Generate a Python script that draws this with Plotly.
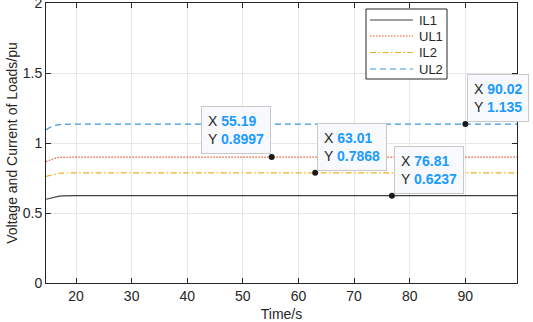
import plotly.graph_objects as go

# Time axis (s)
t = [14.6, 15, 15.3, 15.6, 16, 16.5, 17, 17.5, 18, 19, 20, 40, 60, 80, 99.3]
# Series values (pu)
IL1 = [0.598, 0.602, 0.607, 0.612, 0.616, 0.619, 0.621, 0.622, 0.623, 0.6235, 0.6237, 0.6237, 0.6237, 0.6237, 0.6237]
UL1 = [0.868, 0.873, 0.880, 0.886, 0.891, 0.895, 0.897, 0.898, 0.899, 0.8995, 0.8997, 0.8997, 0.8997, 0.8997, 0.8997]
IL2 = [0.762, 0.766, 0.771, 0.775, 0.779, 0.782, 0.784, 0.785, 0.786, 0.7865, 0.7868, 0.7868, 0.7868, 0.7868, 0.7868]
UL2 = [1.095, 1.101, 1.110, 1.117, 1.123, 1.128, 1.131, 1.133, 1.134, 1.1347, 1.135, 1.135, 1.135, 1.135, 1.135]

series_names = ["IL1", "UL1", "IL2", "UL2"]
series_values = [IL1, UL1, IL2, UL2]
series_colors = ["#404040", "#E8542A", "#EDB120", "#3A97D8"]
series_dash = ["solid", "1.5px,1.5px", "6px,2.5px,1.5px,2.5px", "6px,4px"]

# Data tips
tip_x = [55.19, 63.01, 76.81, 90.02]
tip_y = [0.8997, 0.7868, 0.6237, 1.135]
tip_xlab = ["55.19", "63.01", "76.81", "90.02"]
tip_ylab = ["0.8997", "0.7868", "0.6237", "1.135"]
tip_side = ["left", "right", "right", "right"]

x_ticks = [20, 30, 40, 50, 60, 70, 80, 90]
y_ticks = [0, 0.5, 1, 1.5, 2]
y_tick_text = ["0", "0.5", "1", "1.5", "2"]

FONT = "Liberation Sans, Arial, sans-serif"
TXT = "#262626"

# plot-area pixel geometry (for the hand-built legend box)
PL, PR, PT, PB = 46, 517, 3, 283
def px(xp):
    return (xp - PL) / (PR - PL)
def py(yp):
    return (PB - yp) / (PB - PT)

fig = go.Figure()
for name, vals, col, dash in zip(series_names, series_values, series_colors, series_dash):
    fig.add_trace(go.Scatter(x=t, y=vals, name=name, mode="lines", showlegend=False,
                             line=dict(color=col, width=1.2, dash=dash)))
fig.add_trace(go.Scatter(x=tip_x, y=tip_y, mode="markers", showlegend=False,
                         marker=dict(color="#1a1a1a", size=6)))

for xv, yv, xl, yl, side in zip(tip_x, tip_y, tip_xlab, tip_ylab, tip_side):
    txt = (f"X <b><span style='color:#1A9BFF'>{xl}</span></b><br>"
           f"Y <b><span style='color:#1A9BFF'>{yl}</span></b>")
    fig.add_annotation(
        x=xv, y=yv, xref="x", yref="y", text=txt, showarrow=False,
        xanchor="right" if side == "left" else "left", yanchor="bottom",
        xshift=-1 if side == "left" else 2, yshift=3 if side == "left" else 2,
        align="left", font=dict(family=FONT, size=14, color=TXT),
        bgcolor="#F8F9FC", bordercolor="#C8C8C8", borderwidth=1, borderpad=6,
    )

# legend (hand-built box to match the compact MATLAB legend)
fig.add_shape(type="rect", xref="paper", yref="paper",
              x0=px(366), x1=px(447), y0=py(79), y1=py(9),
              line=dict(color=TXT, width=1), fillcolor="white", layer="above")
row_y = [20, 36, 52.5, 69]
for name, col, dash, ry in zip(series_names, series_colors, series_dash, row_y):
    fig.add_shape(type="line", xref="paper", yref="paper",
                  x0=px(370), x1=px(413), y0=py(ry), y1=py(ry),
                  line=dict(color=col, width=1.2, dash=dash), layer="above")
    fig.add_annotation(x=px(417), y=py(ry), xref="paper", yref="paper",
                       text=name, showarrow=False, xanchor="left", yanchor="middle",
                       font=dict(family=FONT, size=13, color=TXT))

axis_common = dict(
    showline=True, linecolor=TXT, linewidth=1, mirror="ticks",
    ticks="inside", ticklen=5, tickcolor=TXT,
    showgrid=True, gridcolor="#E6E6E6", gridwidth=1, zeroline=False,
    tickfont=dict(family=FONT, size=14, color=TXT), automargin=False,
    ticklabeloverflow="allow",
)

fig.update_xaxes(range=[14.6, 99.3], tickvals=x_ticks,
                 title=dict(text="Time/s", font=dict(family=FONT, size=14, color=TXT), standoff=9),
                 **axis_common)
fig.update_yaxes(range=[0, 2], tickvals=y_ticks, ticktext=y_tick_text,
                 title=dict(text="Voltage and Current of Loads/pu", font=dict(family=FONT, size=14, color=TXT), standoff=1),
                 **axis_common)

fig.update_layout(
    width=533, height=322,
    margin=dict(l=PL, r=533 - PR, t=PT, b=322 - PB),
    plot_bgcolor="white", paper_bgcolor="white",
    showlegend=False,
)

fig.write_html("out.html", config={"displayModeBar": False},
               post_script="document.body.style.margin='0';document.body.style.overflow='hidden';")
